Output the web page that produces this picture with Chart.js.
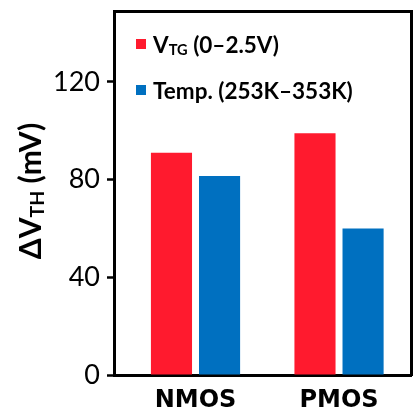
<!DOCTYPE html>
<html lang="en">
<head>
<meta charset="UTF-8">
<title>Delta VTH</title>
<script src="https://cdn.jsdelivr.net/npm/chart.js"></script>
<style>
  html, body { margin: 0; padding: 0; background: #fff; }
  body { width: 413px; height: 410px; position: relative; overflow: hidden; }
  #myChart { position: absolute; left: 0; top: 0; }
  .ytitle {
    position: absolute; left: 11px; top: 171px; width: 200px; height: 40px;
    margin-left: -80px; line-height: 40px; text-align: center;
    font: bold 30px Lato, sans-serif; color: #000;
    transform: rotate(-90deg); white-space: nowrap;
  }
  .sub { font-size: 0.65em; position: relative; top: 0.15em; }
  .legend { position: absolute; left: 136px; font: bold 22.5px Lato, sans-serif; color: #000; white-space: nowrap; line-height: 21px; }
  .legend .box { display: inline-block; width: 10px; height: 10px; margin-right: 7px; position: relative; top: -4px; }
</style>
</head>
<body>

<canvas id="myChart" width="413" height="410"></canvas>
<div class="ytitle">&Delta;V<span class="sub">TH</span> (mV)</div>
<div class="legend" id="leg0" style="top:34px"><span class="box"></span>V<span class="sub">TG</span> (0&ndash;2.5V)</div>
<div class="legend" id="leg1" style="top:80px"><span class="box"></span>Temp. (253K&ndash;353K)</div>

<script>
const categories = ['NMOS', 'PMOS'];
const vtgShift = [91, 99];     // V_TG sweep 0-2.5V, mV
const tempShift = [81.5, 60];  // 253K-353K, mV
const yTicks = [0, 40, 80, 120];

const red = '#FF1A2E';
const blue = '#0070C0';

document.querySelector('#leg0 .box').style.background = red;
document.querySelector('#leg1 .box').style.background = blue;

// no extra label padding around the plot box
function noPad(axis) {
    axis.paddingTop = 0;
    axis.paddingBottom = 0;
    axis.paddingLeft = 0;
    axis.paddingRight = 0;
}

// plain axis that only draws its border line (top and right side of the box)
function frameAxis(position) {
    return {
        type: 'linear',
        position: position,
        offset: false,
        afterFit: axis => {
            if (axis.isHorizontal()) axis.height = 0; else axis.width = 0;
            noPad(axis);
        },
        grid: { display: false, drawTicks: false },
        border: { display: true, color: '#000', width: 3 },
        ticks: { display: false }
    };
}

const ctx = document.getElementById('myChart').getContext('2d');
const chart = new Chart(ctx, {
    type: 'bar',
    data: {
        datasets: [{
            label: 'VTG (0–2.5V)',
            data: categories.map((c, i) => ({ x: i, y: vtgShift[i] })),
            xAxisID: 'x',
            yAxisID: 'y',
            backgroundColor: red,
            borderWidth: 0
        }, {
            label: 'Temp. (253K–353K)',
            data: categories.map((c, i) => ({ x: i, y: tempShift[i] })),
            xAxisID: 'x',
            yAxisID: 'y',
            backgroundColor: blue,
            borderWidth: 0
        }]
    },
    options: {
        responsive: false,
        animation: false,
        categoryPercentage: 0.67,
        barPercentage: 0.855,
        layout: { padding: { left: 0, right: 1.5, top: 11, bottom: 0 } },
        plugins: { legend: { display: false }, tooltip: { enabled: false } },
        scales: {
            x: {
                type: 'linear',
                offset: false,
                min: -0.568,
                max: 1.505,
                afterBuildTicks: axis => { axis.ticks = categories.map((c, i) => ({ value: i })); },
                afterFit: axis => { axis.height = 35; noPad(axis); },
                grid: { display: false, drawTicks: false },
                border: { display: true, color: '#000', width: 3 },
                ticks: {
                    autoSkip: false,
                    maxRotation: 0,
                    padding: 11,
                    color: '#000',
                    font: { family: 'DejaVu Sans', size: 24, weight: 'bold' },
                    callback: v => categories[v]
                }
            },
            y: {
                min: 0,
                max: 149,
                afterBuildTicks: axis => { axis.ticks = yTicks.map(v => ({ value: v })); },
                afterFit: axis => { axis.width = 114; noPad(axis); },
                grid: { drawOnChartArea: false, drawTicks: true, tickLength: 7, tickWidth: 2.5, tickColor: '#000' },
                border: { display: true, color: '#000', width: 3 },
                ticks: {
                    padding: 7,
                    color: '#000',
                    font: { family: 'Lato', size: 27 }
                }
            },
            xTop: frameAxis('top'),
            yRight: frameAxis('right')
        }
    }
});
</script>

</body>
</html>
